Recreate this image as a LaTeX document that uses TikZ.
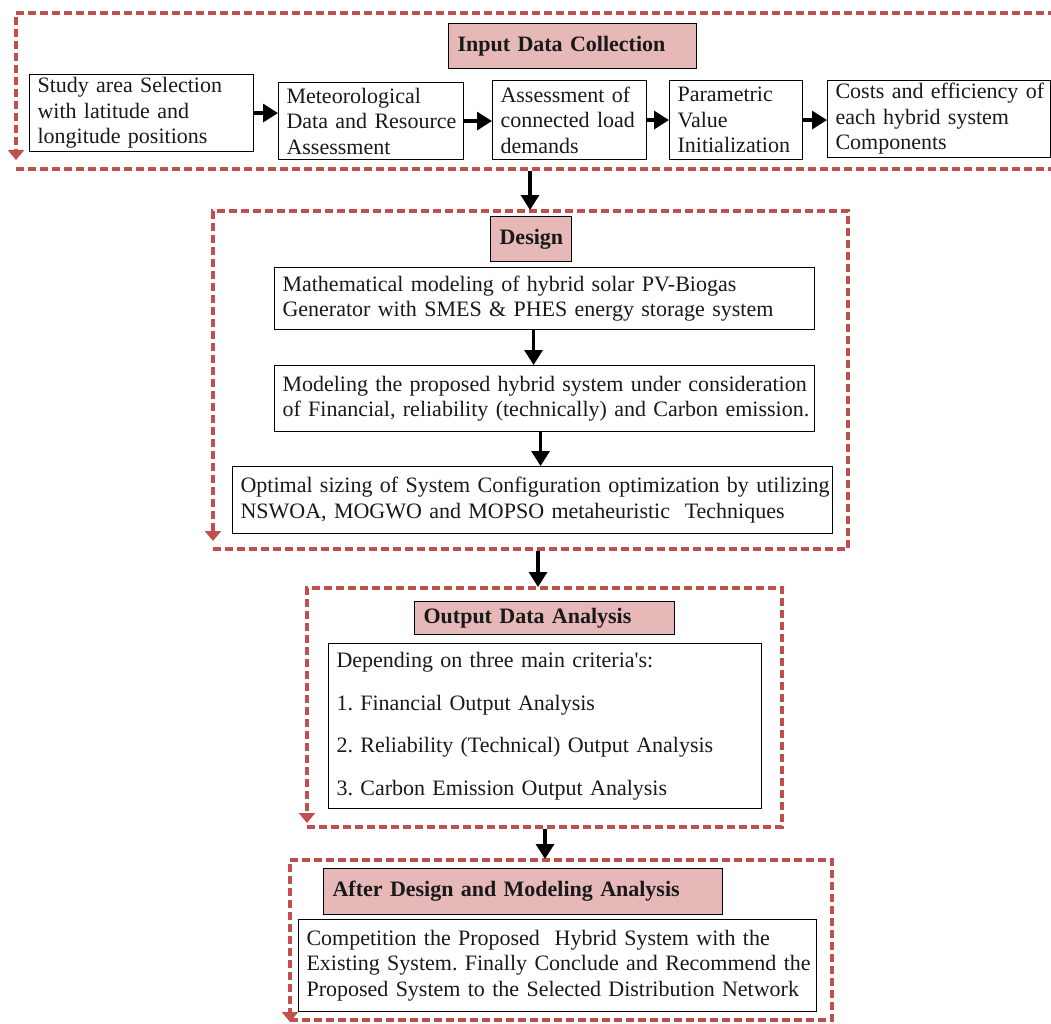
\documentclass[tikz,border=0pt]{standalone}
\usepackage{fontspec}
\setmainfont{Liberation Serif}
\usetikzlibrary{arrows.meta,calc}
\definecolor{framered}{HTML}{C0504D}
\definecolor{titlefill}{HTML}{E6B8B7}
\newcommand\bodyfs{\fontsize{22}{25.5}\selectfont}
\frenchspacing
\begin{document}
\begin{tikzpicture}[x=1pt,y=-1pt,
  frame/.style={draw=framered, line width=3.6pt, dash pattern=on 8pt off 4pt, -{Triangle[width=16pt,length=10pt]}},
  tbox/.style={draw=black, line width=1.1pt, fill=white, align=left, anchor=north west, inner xsep=8pt, inner ysep=0pt, font=\bodyfs, text=black!90},
  titlebox/.style={draw=black, line width=1.2pt, fill=titlefill, align=left, anchor=north west, inner xsep=9pt, inner ysep=0pt, font=\bodyfs\bfseries, text=black!90},
  arr/.style={-{Triangle[width=18pt,length=15pt]}, line width=3.2pt}
]
\useasboundingbox (0,0) rectangle (1051,1023);
\clip (0,0) rectangle (1051,1023);

% ---------- Frame 1 ----------
\draw[frame] (16,169) -- (1058,169) -- (1058,13) -- (16,13) -- (16,160);
\coordinate (f1b) at (530,171);
\node[titlebox, text width=230pt, minimum height=45pt] (t1) at (448,23) {Input Data Collection};
\node[tbox, text width=208pt, minimum height=77pt] (study) at (29,74)
  {\mbox{Study area Selection}\\\mbox{with latitude and}\\\mbox{longitude positions}};
\node[tbox, text width=169pt, minimum height=77pt] (meteo) at (278,82)
  {\mbox{Meteorological}\\\mbox{Data and Resource}\\\mbox{Assessment}};
\node[tbox, text width=138pt, minimum height=79pt] (assess) at (492,80)
  {\mbox{Assessment of}\\\mbox{connected load}\\\mbox{demands}};
\node[tbox, text width=117pt, minimum height=79pt] (param) at (669,80)
  {\mbox{Parametric}\\\mbox{Value}\\\mbox{Initialization}};
\node[tbox, text width=207pt, minimum height=77pt] (costs) at (827,80)
  {\mbox{Costs and efficiency of}\\\mbox{each hybrid system}\\\mbox{Components}};
\draw[arr] (study.east) -- (study.east -| meteo.west);
\draw[arr] (meteo.east) -- (meteo.east -| assess.west);
\draw[arr] (assess.east) -- (assess.east -| param.west);
\draw[arr] (param.east) -- (param.east -| costs.west);

% ---------- Frame 2 ----------
\draw[frame] (213,549) -- (848,549) -- (848,211) -- (213,211) -- (213,541);
\coordinate (f2t) at (530,210);
\coordinate (f2b) at (538,551);
\draw[arr] (f1b) -- (f2t);
\node[titlebox, text width=63pt, minimum height=45pt] (t2) at (490,216) {Design};
\node[tbox, text width=524pt, minimum height=62pt] (math) at (274,267)
  {\mbox{Mathematical modeling of hybrid solar PV-Biogas}\\\mbox{Generator with SMES \& PHES energy storage system}};
\node[tbox, text width=524pt, minimum height=66pt] (model) at (274,365)
  {\mbox{Modeling the proposed hybrid system under consideration}\\\mbox{of Financial, reliability (technically) and Carbon emission.}};
\node[tbox, text width=584pt, minimum height=67pt] (opt) at (232,466)
  {\mbox{Optimal sizing of System Configuration optimization by utilizing}\\\mbox{NSWOA, MOGWO and MOPSO metaheuristic\ \ Techniques}};
\draw[arr] ([xshift=-11pt]math.south) -- ([xshift=-11pt]math.south |- model.north);
\draw[arr] ([xshift=-4pt]model.south) -- ([xshift=-4pt]model.south |- opt.north);

% ---------- Frame 3 ----------
\draw[frame] (307,827) -- (782,827) -- (782,588) -- (307,588) -- (307,823);
\coordinate (f3t) at (538,587);
\coordinate (f3b) at (545,829);
\draw[arr] (f2b) -- (f3t);
\node[titlebox, text width=242pt, minimum height=33pt] (t3) at (414,601) {Output Data Analysis};
\node[tbox, text width=417pt, minimum height=165pt, font=\fontsize{22}{42.5}\selectfont] (crit) at (328,643)
  {\mbox{Depending on three main criteria\textquotesingle s:}\\\mbox{1. Financial Output Analysis}\\\mbox{2. Reliability (Technical) Output Analysis}\\\mbox{3. Carbon Emission Output Analysis}};

% ---------- Frame 4 ----------
\draw[frame] (290,1020) -- (832,1020) -- (832,860) -- (290,860) -- (290,1022);
\coordinate (f4t) at (545,859);
\draw[arr] (f3b) -- (f4t);
\node[titlebox, text width=381pt, minimum height=46pt] (t4) at (323,868) {After Design and Modeling Analysis};
\node[tbox, text width=502pt, minimum height=92pt] (comp) at (298,919)
  {\mbox{Competition the Proposed\ \ Hybrid System with the}\\\mbox{Existing System. Finally Conclude and Recommend the}\\\mbox{Proposed System to the Selected Distribution Network}};
\end{tikzpicture}
\end{document}
